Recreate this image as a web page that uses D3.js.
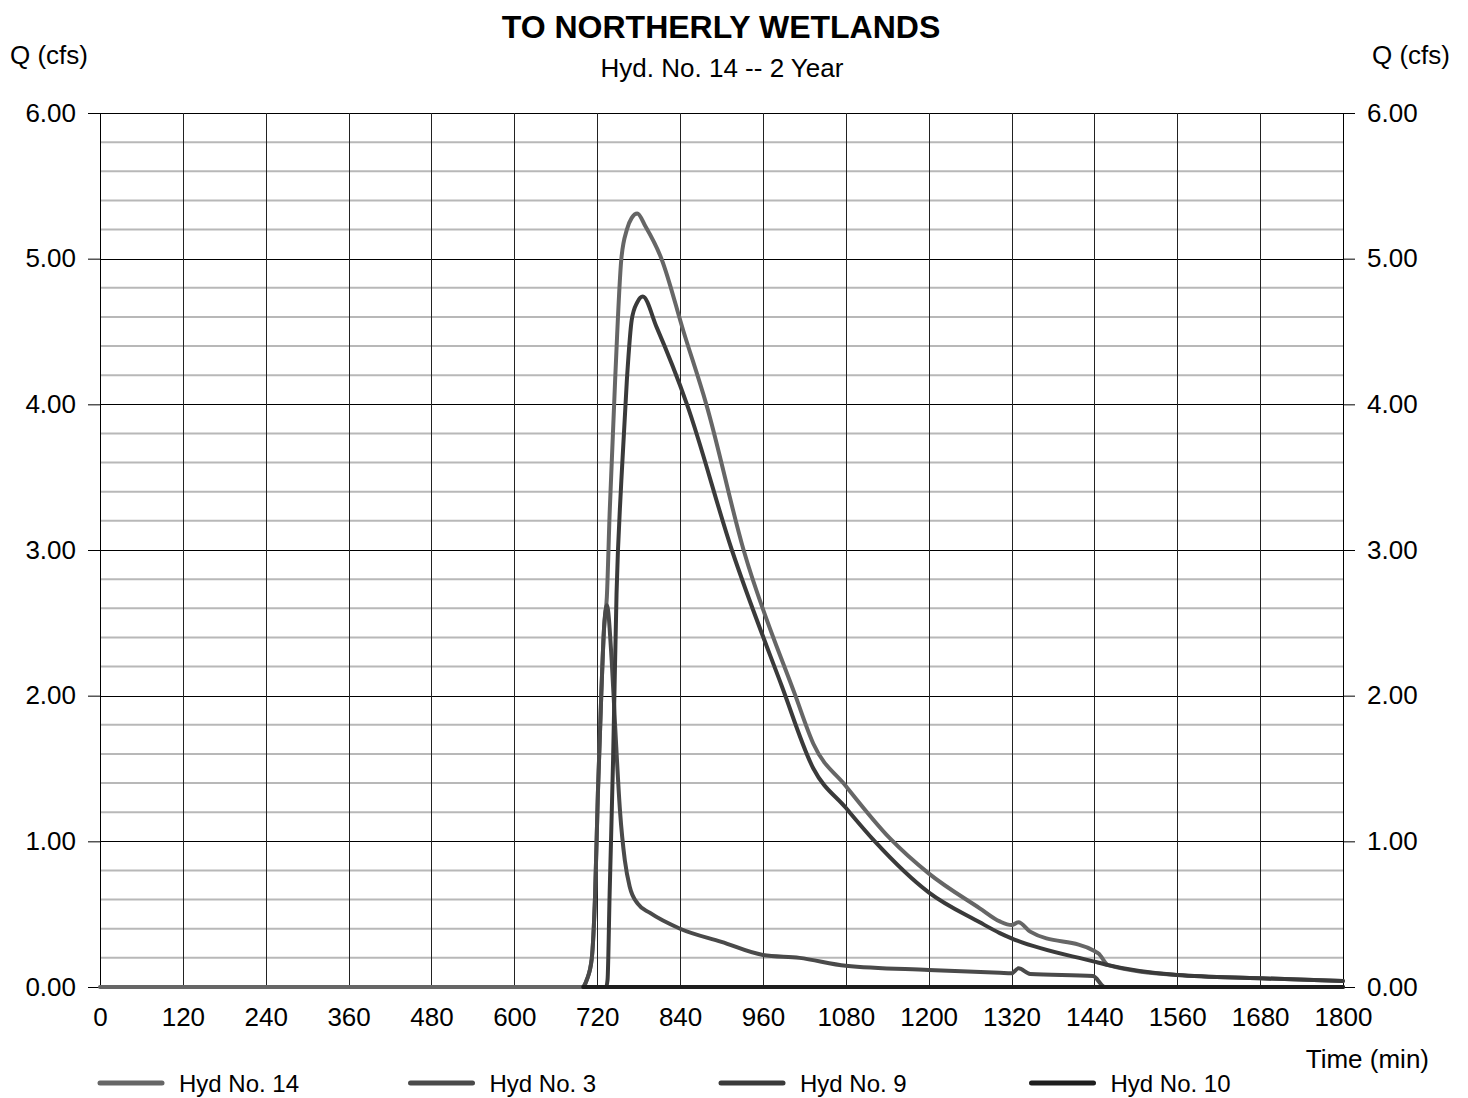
<!DOCTYPE html>
<html>
<head>
<meta charset="utf-8">
<script src="https://cdn.jsdelivr.net/npm/d3@7"></script>
<style>
    body { margin: 0; background: #fff; }
    text { font-family: "Liberation Sans", Arial, sans-serif; fill: #000; }
</style>
</head>
<body>
<div class="chart"></div>
<script>
// tick values
const timeTicks = [0, 120, 240, 360, 480, 600, 720, 840, 960, 1080, 1200, 1320, 1440, 1560, 1680, 1800];
const qTicks = [0, 1, 2, 3, 4, 5, 6];

// Hyd No. 14
const hyd14Time = [0, 700, 705, 712, 717, 721, 726, 730, 734, 738, 746, 755, 763, 770, 778, 790, 813, 845, 878, 932, 1007, 1033, 1080, 1144, 1200, 1274, 1303, 1320, 1330, 1347, 1440, 1446, 1460, 1560, 1680, 1800];
const hyd14Q = [0, 0, 0.05, 0.19, 0.64, 1.33, 2.02, 2.47, 2.68, 3.25, 4.17, 5.0, 5.2, 5.28, 5.31, 5.22, 5.0, 4.5, 4.0, 3.0, 2.0, 1.67, 1.38, 1.02, 0.78, 0.54, 0.45, 0.425, 0.444, 0.38, 0.247, 0.23, 0.15, 0.082, 0.06, 0.041];

// Hyd No. 3
const hyd3Time = [700, 705, 712, 717, 721, 726, 730, 734, 741, 746, 753, 760, 767, 779, 796, 840, 900, 960, 1013, 1080, 1200, 1303, 1320, 1330, 1347, 1438, 1455, 1800];
const hyd3Q = [0, 0.05, 0.19, 0.64, 1.33, 2.02, 2.47, 2.62, 2.24, 1.79, 1.21, 0.87, 0.69, 0.57, 0.51, 0.40, 0.31, 0.22, 0.20, 0.146, 0.117, 0.098, 0.094, 0.128, 0.089, 0.075, 0, 0];

// Hyd No. 9
const hyd9Time = [700, 733, 735, 738, 743, 748, 755, 763, 770, 778, 786, 806, 850, 915, 987, 1033, 1080, 1122, 1200, 1274, 1303, 1320, 1440, 1460, 1560, 1680, 1800];
const hyd9Q = [0, 0, 0.05, 0.64, 1.56, 2.70, 3.48, 4.17, 4.58, 4.70, 4.74, 4.53, 4.0, 3.0, 2.07, 1.50, 1.23, 1.00, 0.65, 0.444, 0.37, 0.334, 0.174, 0.15, 0.082, 0.06, 0.041];

// Hyd No. 10
const hyd10Time = [700, 1800];
const hyd10Q = [0, 0];

const seriesNames = ["Hyd No. 14", "Hyd No. 3", "Hyd No. 9", "Hyd No. 10"];
const seriesColors = ["#666666", "#4a4a4a", "#3a3a3a", "#1e1e1e"];

const createChart = () => {
    const w = 1468;
    const h = 1098;
    const left = 100, right = 1343, top = 113, bottom = 987;
    const fs = 26;

    const series = [
        d3.zip(hyd14Time, hyd14Q),
        d3.zip(hyd3Time, hyd3Q),
        d3.zip(hyd9Time, hyd9Q),
        d3.zip(hyd10Time, hyd10Q),
    ];

    const xScale = d3.scaleLinear().domain([0, 1800]).range([left, right]);
    const yScale = d3.scaleLinear().domain([0, 6]).range([bottom, top]);

    const svg = d3.select(".chart").append("svg")
        .attr("width", w)
        .attr("height", h);

    // minor gridlines every 0.2
    const minor = d3.range(0, 30).filter(i => i % 5 !== 0).map(i => i * 0.2);
    svg.append("g").selectAll("line")
        .data(minor)
        .enter()
        .append("line")
        .attr("x1", left).attr("x2", right)
        .attr("y1", d => yScale(d)).attr("y2", d => yScale(d))
        .attr("stroke", "#b8b8b8")
        .attr("stroke-width", 2);

    // major gridlines
    svg.append("g").selectAll("line")
        .data(qTicks)
        .enter()
        .append("line")
        .attr("x1", left).attr("x2", right)
        .attr("y1", d => Math.round(yScale(d)) + 0.5).attr("y2", d => Math.round(yScale(d)) + 0.5)
        .attr("stroke", "#000")
        .attr("stroke-width", 1);

    svg.append("g").selectAll("line")
        .data(timeTicks)
        .enter()
        .append("line")
        .attr("x1", d => Math.round(xScale(d)) + 0.5).attr("x2", d => Math.round(xScale(d)) + 0.5)
        .attr("y1", top).attr("y2", bottom)
        .attr("stroke", d => (d === 0 || d === 1800) ? "#000" : "#222")
        .attr("stroke-width", 1);

    // y axes
    const yLeft = d3.axisLeft(yScale).tickValues(qTicks).tickFormat(d3.format(".2f")).tickSize(12).tickPadding(12);
    const yRight = d3.axisRight(yScale).tickValues(qTicks).tickFormat(d3.format(".2f")).tickSize(12).tickPadding(12);

    svg.append("g")
        .attr("transform", "translate(" + left + ",0)")
        .call(yLeft)
        .call(g => g.select(".domain").remove())
        .call(g => g.selectAll("text").attr("font-size", fs).attr("font-family", "Liberation Sans, Arial"));

    svg.append("g")
        .attr("transform", "translate(" + right + ",0)")
        .call(yRight)
        .call(g => g.select(".domain").remove())
        .call(g => g.selectAll("text").attr("font-size", fs).attr("font-family", "Liberation Sans, Arial"));

    // x axis labels
    const xAxis = d3.axisBottom(xScale).tickValues(timeTicks).tickFormat(d3.format("d")).tickSize(0).tickPadding(21);
    svg.append("g")
        .attr("transform", "translate(0," + bottom + ")")
        .call(xAxis)
        .call(g => g.select(".domain").remove())
        .call(g => g.selectAll("text").attr("font-size", fs).attr("font-family", "Liberation Sans, Arial"));

    // series lines
    const line = d3.line()
        .x(d => xScale(d[0]))
        .y(d => yScale(d[1]))
        .curve(d3.curveMonotoneX);

    svg.append("g").selectAll("path")
        .data(series)
        .enter()
        .append("path")
        .attr("d", line)
        .attr("fill", "none")
        .attr("stroke", (d, i) => seriesColors[i])
        .attr("stroke-width", 4)
        .attr("stroke-linejoin", "round")
        .attr("stroke-linecap", "round");

    // titles
    svg.append("text")
        .attr("x", 721).attr("y", 38)
        .attr("text-anchor", "middle")
        .attr("font-size", 32)
        .attr("font-weight", "bold")
        .text("TO NORTHERLY WETLANDS");

    svg.append("text")
        .attr("x", 722).attr("y", 77)
        .attr("text-anchor", "middle")
        .attr("font-size", fs)
        .text("Hyd. No. 14 -- 2 Year");

    svg.append("text")
        .attr("x", 10).attr("y", 64)
        .attr("font-size", fs)
        .text("Q (cfs)");

    svg.append("text")
        .attr("x", 1450).attr("y", 64)
        .attr("text-anchor", "end")
        .attr("font-size", fs)
        .text("Q (cfs)");

    svg.append("text")
        .attr("x", 1429).attr("y", 1068)
        .attr("text-anchor", "end")
        .attr("font-size", fs)
        .text("Time (min)");

    // legend
    const legend = svg.append("g").selectAll("g")
        .data(seriesNames)
        .enter()
        .append("g")
        .attr("transform", (d, i) => "translate(" + (100 + i * 310.5) + ",1083)");

    legend.append("line")
        .attr("x1", 0).attr("x2", 62)
        .attr("y1", 0).attr("y2", 0)
        .attr("stroke", (d, i) => seriesColors[i])
        .attr("stroke-width", 5)
        .attr("stroke-linecap", "round");

    legend.append("text")
        .attr("x", 79).attr("y", 9)
        .attr("font-size", 24)
        .text(d => d);
};

createChart();
</script>
</body>
</html>
